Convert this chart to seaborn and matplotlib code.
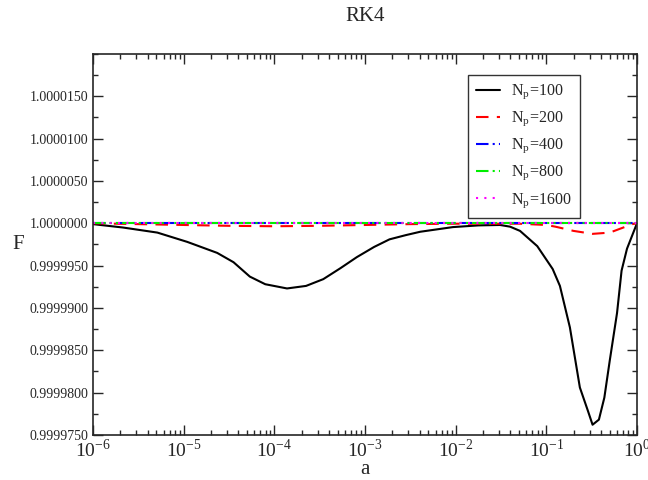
import numpy as np
import pandas as pd
import matplotlib
matplotlib.use("Agg")
import matplotlib.pyplot as plt
import matplotlib.ticker as mticker
import seaborn as sns

# log10(a) positions and F - 1 (in units of 1e-6)
loga_100 = [-6.0, -5.67, -5.29, -4.96, -4.63, -4.45, -4.27, -4.1, -3.86, -3.65,
            -3.46, -3.27, -3.09, -2.9, -2.73, -2.55, -2.39, -2.03, -1.75, -1.51,
            -1.4, -1.29, -1.1, -0.93, -0.85, -0.74, -0.63, -0.54, -0.49, -0.42,
            -0.36, -0.3, -0.22, -0.17, -0.11, 0.0]
df_100 = [-0.1, -0.5, -1.1, -2.2, -3.5, -4.6, -6.3, -7.2, -7.7, -7.4,
          -6.6, -5.3, -4.0, -2.8, -1.9, -1.4, -1.0, -0.45, -0.25, -0.2,
          -0.4, -0.9, -2.7, -5.4, -7.4, -12.3, -19.4, -22.2, -23.8, -23.2,
          -20.6, -16.2, -10.6, -5.6, -3.0, 0.0]

loga_200 = [-6.0, -5.5, -5.0, -4.5, -4.0, -3.5, -3.0, -2.5, -2.0, -1.3,
            -1.0, -0.9, -0.7, -0.49, -0.3, -0.15, -0.05, 0.0]
df_200 = [0.0, -0.1, -0.2, -0.3, -0.35, -0.3, -0.2, -0.1, -0.05, -0.05,
          -0.2, -0.4, -0.9, -1.25, -1.1, -0.5, -0.1, 0.0]

loga_flat = [-6.0, -4.0, -2.0, 0.0]
df_400 = [0.0, 0.0, 0.0, 0.0]
df_800 = [0.0, 0.0, 0.0, 0.0]
df_1600 = [0.0, 0.0, 0.0, 0.0]

labels = ["100", "200", "400", "800", "1600"]
colors = ["black", "red", "blue", "#00ee00", "magenta"]
dashes = ["-", (0, (6, 4)), (0, (6, 2, 1, 2)), (0, (6, 2, 1, 2, 1, 2)), (0, (1, 3))]

y_ticks = [0.999975, 0.99998, 0.999985, 0.99999, 0.999995, 1.0, 1.000005, 1.00001, 1.000015]

series = [(loga_100, df_100), (loga_200, df_200), (loga_flat, df_400),
          (loga_flat, df_800), (loga_flat, df_1600)]
rows = []
for lab, (ll, dd) in zip(labels, series):
    for x, d in zip(ll, dd):
        rows.append({"a": 10.0 ** x, "F": 1 + d * 1e-6,
                     "Np": r"N$_\mathregular{p}$=" + lab})
df = pd.DataFrame(rows)

sns.set_style("ticks")
plt.rcParams["font.family"] = ["Liberation Serif", "DejaVu Serif"]
plt.rcParams["mathtext.fontset"] = "stix"

fig = plt.figure(figsize=(6.48, 4.8), dpi=100)
ax = fig.add_axes([0.1435, 0.094, 0.8395, 0.7935])

for lab, c, ls in zip(labels, colors, dashes):
    name = r"N$_\mathregular{p}$=" + lab
    sub = df[df["Np"] == name]
    sns.lineplot(data=sub, x="a", y="F", ax=ax, color=c, linestyle=ls,
                 linewidth=1.5, label=name, estimator=None, sort=False)

ax.set_xscale("log")
ax.set_xlim(1e-6, 1.0)
ax.set_ylim(0.999975, 1.00002)

ax.yaxis.set_major_locator(mticker.FixedLocator(y_ticks))
ax.yaxis.set_minor_locator(mticker.MultipleLocator(2.5e-6))
ax.yaxis.set_major_formatter(mticker.FormatStrFormatter("%.7f"))
ax.xaxis.set_major_locator(mticker.LogLocator(base=10, numticks=10))
ax.xaxis.set_minor_locator(mticker.LogLocator(base=10, subs=np.arange(2, 10), numticks=10))
ax.xaxis.set_minor_formatter(mticker.NullFormatter())
ax.xaxis.set_major_formatter(mticker.FuncFormatter(
    lambda v, p: r"10$^{\mathregular{%d}}$" % round(np.log10(v))))

ax.tick_params(which="both", direction="in", top=True, right=True, width=1)
ax.tick_params(which="major", length=7)
ax.tick_params(which="minor", length=3.5)
ax.tick_params(axis="y", labelsize=10)
ax.tick_params(axis="x", labelsize=14, pad=3)
for s in ax.spines.values():
    s.set_linewidth(1.2)
    s.set_visible(True)

ax.set_xlabel("a", fontsize=15, labelpad=-1)
ax.set_ylabel("F", fontsize=15, rotation=0, va="center", labelpad=8)
ax.set_title("RK4", fontsize=15, pad=24)

leg = ax.legend(loc="upper right", bbox_to_anchor=(0.895, 0.945), fontsize=11.5,
                frameon=True, fancybox=False, edgecolor="black", borderaxespad=0,
                handlelength=1.5, handletextpad=0.7, borderpad=0.5, labelspacing=0.55)
leg.get_frame().set_linewidth(1.0)

plt.savefig("out.png", dpi=100)
